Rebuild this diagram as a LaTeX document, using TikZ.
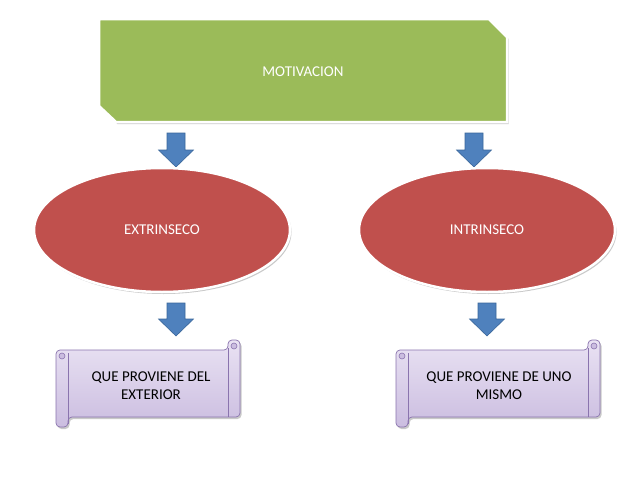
\documentclass[tikz,border=0pt]{standalone}
\usepackage{fontspec}
\setmainfont{Carlito}
\usetikzlibrary{shadows,shapes.geometric}
\definecolor{grn}{HTML}{9BBB59}
\definecolor{redf}{HTML}{C0504D}
\definecolor{bluef}{HTML}{4F81BD}
\definecolor{blued}{HTML}{3A679B}
\definecolor{lavtop}{HTML}{E9E2F3}
\definecolor{lavbot}{HTML}{CBBDE0}
\definecolor{lavline}{HTML}{8A74AE}
\tikzset{
  shd/.style={drop shadow={opacity=0.35,shadow xshift=1.5pt,shadow yshift=-2pt,fill=black!60}},
  blockarrow/.style={fill=bluef,draw=blued,line width=0.6pt},
  ovalbox/.style={ellipse,fill=redf,draw=white,line width=2.5pt,minimum width=256pt,minimum height=124pt,inner sep=0pt,text=white,font=\fontsize{15}{18}\selectfont,shd},
  scrolltext/.style={align=center,text=black,font=\fontsize{15}{18}\selectfont},
  scrollbody/.style={top color=lavtop,bottom color=lavbot,draw=lavline,line width=0.7pt},
}
\newcommand{\blockarr}[4]{% name, cx, ytop, ybot
  \draw[blockarrow] (#2-9,#3) -- (#2+9,#3) -- (#2+9,#4-17) -- (#2+17.5,#4-17) -- (#2,#4) -- (#2-17.5,#4-17) -- (#2-9,#4-17) -- cycle;
  \coordinate (#1) at (#2,#4);}
\newcommand{\scrollshape}[4]{% x0,y0,x1,y1
  \begin{scope}
  \draw[scrollbody,shd,rounded corners=4pt] ({#1+10},{#2+10}) -- ({#3-12},{#2+10}) -- ({#3-12},{#2}) -- ({#3},{#2}) -- ({#3},{#4-10}) -- ({#1+12},{#4-10}) -- ({#1+12},{#4}) -- ({#1},{#4}) -- ({#1},{#2+10}) -- cycle;
  \draw[lavline,line width=0.7pt] ({#3-12},{#2+8}) -- ({#3-12},{#4-10});
  \draw[lavline,line width=0.7pt] ({#1+12},{#2+13}) -- ({#1+12},{#4-3});
  \draw[lavline,line width=0.6pt,fill=lavbot] ({#1+6},{#2+16}) circle (3pt);
  \draw[lavline,line width=0.6pt,fill=lavbot] ({#3-6},{#2+6}) circle (3pt);
  \end{scope}}
\begin{document}
\begin{tikzpicture}[x=1pt,y=-1pt]
\useasboundingbox[fill=white] (0,0) rectangle (638,479);
% top green box
\draw[fill=grn,draw=white,line width=2.5pt,shd] (99,19) -- (489,19) -- (507,37) -- (507,122) -- (116,122) -- (99,106) -- cycle;
\node[text=white,font=\fontsize{15}{18}\selectfont] (mot) at (303,72) {MOTIVACION};
% arrows top
\blockarr{a1}{176}{133}{167}
\blockarr{a2}{474}{133}{167}
% ellipses
\node[ovalbox] (ext) at (162,230) {EXTRINSECO};
\node[ovalbox] (int) at (487,230) {INTRINSECO};
% arrows bottom
\blockarr{a3}{176}{303}{336}
\blockarr{a4}{487}{303}{336}
% scrolls
\scrollshape{56}{340}{240}{427}
\node[scrolltext] (s1) at (151,386) {QUE PROVIENE DEL\\EXTERIOR};
\scrollshape{396}{340}{600}{427}
\node[scrolltext] (s2) at (499,386) {QUE PROVIENE DE UNO\\MISMO};
\end{tikzpicture}
\end{document}
